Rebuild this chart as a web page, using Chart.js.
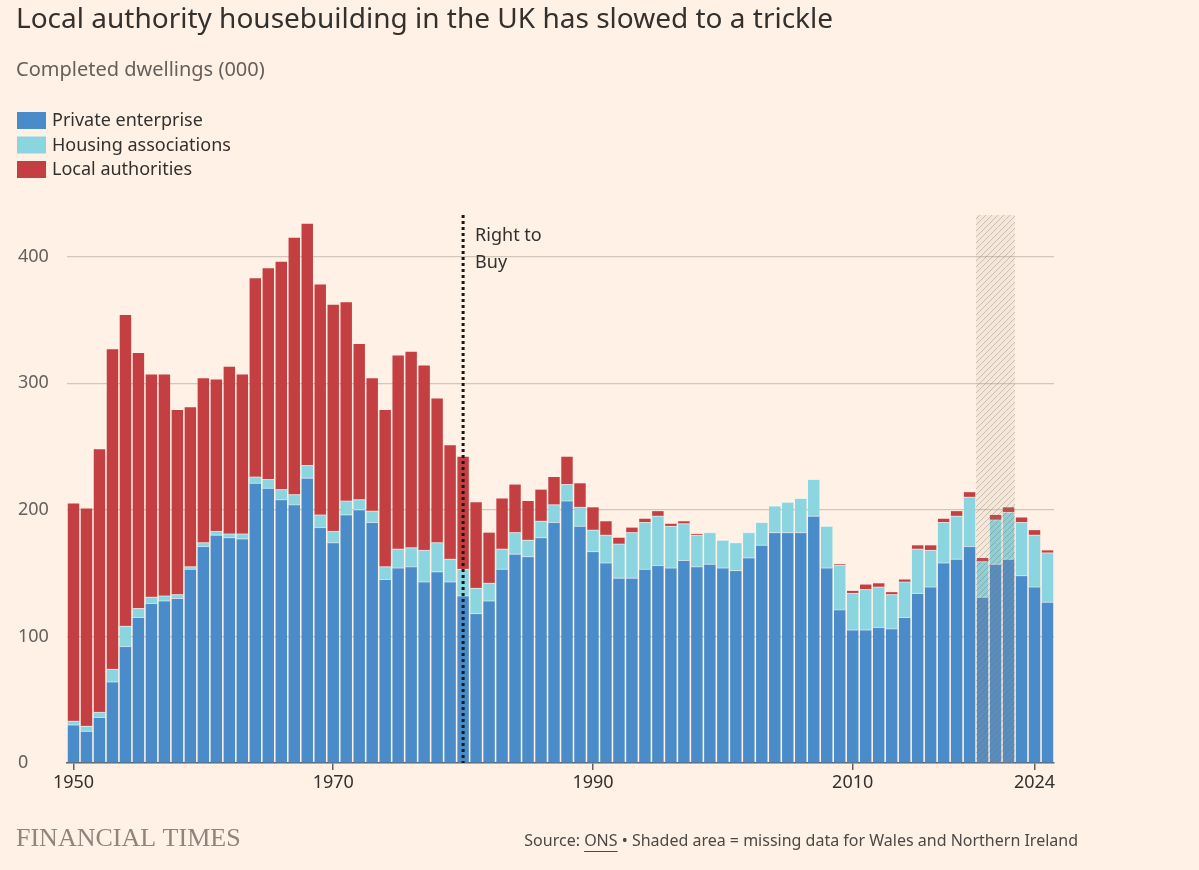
<!DOCTYPE html>
<html><head><meta charset="utf-8">
<script src="https://cdn.jsdelivr.net/npm/chart.js@4/dist/chart.umd.min.js"></script>
<style>html,body{margin:0;padding:0;background:#fff1e5;}#wrap{width:1199px;height:870px;position:relative}</style>
</head><body><div id="wrap"><canvas id="c" width="1199" height="870"></canvas></div>
<script>
const years = [];
for (let y = 1950; y <= 2025; y++) years.push(String(y));
const privateTop = [30,25,36,64,92,115,126,128,130,153,171,180,178,177,221,217,208,204,225,186,174,196,200,190,145,154,155,143,151,143,132,118,128,153,165,163,178,190,207,187,167,158,146,146,153,156,154,160,155,157,154,152,162,172,182,182,182,195,154,121,105,105,107,106,115,134,139,158,161,171,131,157,161,148,139,127];
const haTop = [33,29,40,74,108,122,131,132,133,155,174,183,181,181,226,224,216,212,235,196,183,207,208,199,155,169,170,168,174,161,153,138,142,169,182,176,191,204,220,202,184,180,173,182,190,195,187,189,180,182,176,174,182,190,203,206,209,224,187,156,134,137,139,133,143,169,168,190,195,210,159,192,198,190,180,166];
const totalTop = [205,201,248,327,354,324,307,307,279,281,304,303,313,307,383,391,396,415,426,378,362,364,331,304,279,322,325,314,288,251,242,206,182,209,220,207,216,226,242,221,202,191,178,186,193,199,189,191,181,182,176,174,182,190,203,206,209,224,187,157,136,141,142,135,145,172,172,193,199,214,162,196,202,194,184,168];
const privateEnterprise = privateTop;
const housingAssociations = haTop.map((v,i)=>+(v-privateTop[i]).toFixed(1));
const localAuthorities = totalTop.map((v,i)=>+(v-haTop[i]).toFixed(1));
const yTicks = [0,100,200,300,400];
const xTickLabels = ['1950','1970','1990','2010','2024'];
const shadedYears = ['2020','2022'];
const rightToBuyYear = '1980';

const BG = '#fff1e5';
const FONT = '"Noto Sans", sans-serif';

const overlay = {
  id: 'overlay',
  beforeDraw(chart){
    const ctx = chart.ctx;
    ctx.save(); ctx.fillStyle = BG; ctx.fillRect(0,0,chart.width,chart.height); ctx.restore();
  },
  afterDatasetsDraw(chart){
    const ctx = chart.ctx, x = chart.scales.x, y = chart.scales.y;
    const top = y.getPixelForValue(433), bottom = y.getPixelForValue(0);
    const step = x.getPixelForValue(1) - x.getPixelForValue(0);
    // thin separators between stacked segments
    ctx.save();
    ctx.fillStyle = 'rgba(255,255,255,0.55)';
    years.forEach((yr,i)=>{
      const cx = x.getPixelForValue(i), w = step*0.88;
      [privateTop[i], haTop[i]].forEach(v=>{
        ctx.fillRect(cx - w/2, y.getPixelForValue(v) - 0.5, w, 1);
      });
    });
    ctx.restore();
    // shaded area
    const x0 = x.getPixelForValue(years.indexOf(shadedYears[0])) - step/2;
    const x1 = x.getPixelForValue(years.indexOf(shadedYears[1])) + step/2;
    ctx.save();
    ctx.beginPath(); ctx.rect(x0, top, x1-x0, bottom-top); ctx.clip();
    ctx.fillStyle = 'rgba(180,165,150,0.12)'; ctx.fillRect(x0, top, x1-x0, bottom-top);
    ctx.strokeStyle = 'rgba(120,110,100,0.35)'; ctx.lineWidth = 1;
    for (let k = -700; k < 700; k += 6) {
      ctx.beginPath(); ctx.moveTo(x0 + k, bottom); ctx.lineTo(x0 + k + (bottom-top), top); ctx.stroke();
    }
    ctx.restore();
    // Right to Buy line
    const rx = x.getPixelForValue(years.indexOf(rightToBuyYear));
    ctx.save();
    ctx.strokeStyle = '#1a1817'; ctx.lineWidth = 3; ctx.setLineDash([3,3]);
    ctx.beginPath(); ctx.moveTo(rx, top); ctx.lineTo(rx, bottom); ctx.stroke();
    ctx.restore();
    ctx.save();
    ctx.fillStyle = '#33302e'; ctx.font = '18px ' + FONT; ctx.textBaseline = 'middle';
    ctx.fillText('Right to', rx + 12, 236); ctx.fillText('Buy', rx + 12, 263);
    ctx.restore();
  },
  afterDraw(chart){
    const ctx = chart.ctx;
    ctx.save();
    ctx.textBaseline = 'middle';
    ctx.fillStyle = '#33302e'; ctx.font = '28px ' + FONT;
    ctx.fillText('Local authority housebuilding in the UK has slowed to a trickle', 16, 20);
    ctx.fillStyle = '#66605c'; ctx.font = '20px ' + FONT;
    ctx.fillText('Completed dwellings (000)', 16, 70);
    const leg = [['Private enterprise','#4a8bc9'],['Housing associations','#8ad5e0'],['Local authorities','#c33f42']];
    ctx.font = '18px ' + FONT;
    leg.forEach((l,i)=>{
      const yy = 121 + i*24.5;
      ctx.fillStyle = l[1]; ctx.fillRect(17, yy-9, 29, 17);
      ctx.fillStyle = '#33302e'; ctx.fillText(l[0], 52, yy);
    });
    ctx.fillStyle = '#8f857d'; ctx.font = '26px "Liberation Serif", serif';
    ctx.fillText('FINANCIAL TIMES', 16, 839);
    ctx.font = '16px ' + FONT; ctx.fillStyle = '#4d4845'; ctx.textAlign = 'right';
    const rest = ' \u2022 Shaded area = missing data for Wales and Northern Ireland';
    const rw = ctx.measureText(rest).width;
    ctx.fillText(rest, 1078, 841);
    ctx.textAlign = 'left';
    const onsW = ctx.measureText('ONS').width;
    const srcW = ctx.measureText('Source: ').width;
    const sx = 1078 - rw - onsW - srcW;
    ctx.fillText('Source: ', sx, 841);
    ctx.fillText('ONS', sx + srcW, 841);
    ctx.fillRect(sx + srcW, 851, onsW, 1);
    ctx.restore();
  }
};

const common = { barPercentage: 0.88, categoryPercentage: 1.0, borderWidth: 0 };
new Chart(document.getElementById('c'), {
  type: 'bar',
  data: {
    labels: years,
    datasets: [
      Object.assign({ label: 'Private enterprise', data: privateEnterprise, backgroundColor: '#4a8bc9' }, common),
      Object.assign({ label: 'Housing associations', data: housingAssociations, backgroundColor: '#8ad5e0' }, common),
      Object.assign({ label: 'Local authorities', data: localAuthorities, backgroundColor: '#c33f42' }, common)
    ]
  },
  options: {
    responsive: false, animation: false, devicePixelRatio: 1,
    layout: { padding: { top: 215, left: 18, right: 145, bottom: 72 } },
    plugins: { legend: { display: false }, tooltip: { enabled: false } },
    scales: {
      x: {
        stacked: true, offset: true,
        grid: { display: true, drawOnChartArea: false, offset: false, tickLength: 7, lineWidth: 1.5,
          color: c => xTickLabels.includes(years[c.index]) ? '#66605c' : 'rgba(0,0,0,0)' },
        border: { display: true, color: '#66605c', width: 1.5 },
        ticks: { autoSkip: false, maxRotation: 0, color: '#33302e', font: { size: 18, family: FONT }, padding: 2,
          callback: (v,i) => xTickLabels.includes(years[i]) ? years[i] : '' },
        afterFit: s => { s.height = 35; }
      },
      y: {
        stacked: true, min: 0, max: 433,
        afterBuildTicks: s => { s.ticks = yTicks.map(v => ({ value: v })); },
        grid: { color: c => c.tick && c.tick.value === 0 ? 'rgba(0,0,0,0)' : '#d4c6b9', lineWidth: 1.2, drawTicks: false },
        border: { display: false },
        ticks: { color: '#66605c', font: { size: 18, family: FONT }, crossAlign: 'far', padding: 0 },
        afterFit: s => { s.width = 49; }
      }
    }
  },
  plugins: [overlay]
});
</script></body></html>
